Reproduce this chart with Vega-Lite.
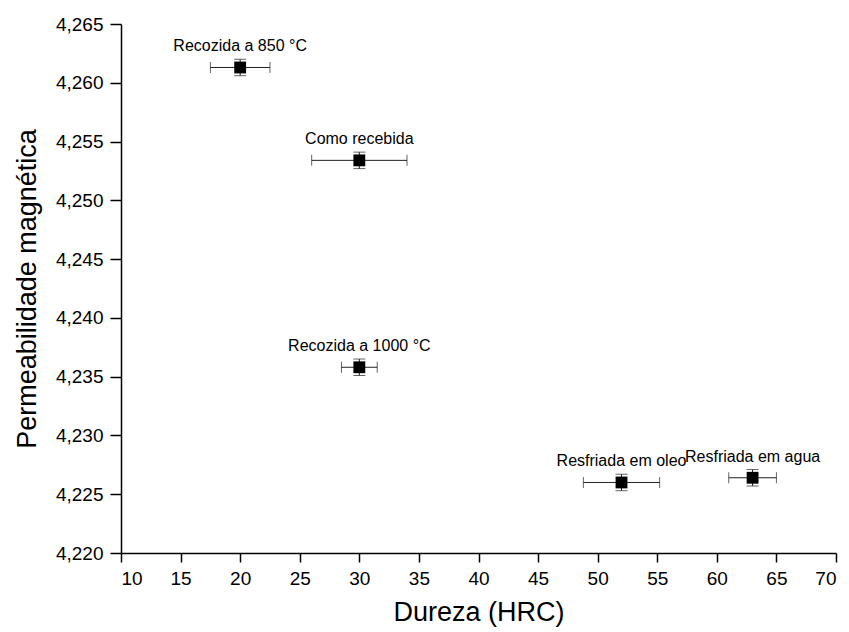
{
  "$schema": "https://vega.github.io/schema/vega-lite/v6.json",
  "width": 715,
  "height": 529,
  "autosize": "none",
  "padding": {"left": 121, "top": 24, "right": 13, "bottom": 79},
  "background": "white",
  "config": {
    "view": {"stroke": null},
    "font": "Liberation Sans",
    "axis": {"grid": false, "domainColor": "black", "domainWidth": 1.5, "tickColor": "black", "tickWidth": 1.5, "labelColor": "black", "titleColor": "black", "labelFont": "Liberation Sans", "titleFont": "Liberation Sans", "labelFontSize": 19, "titleFontSize": 27, "titleFontWeight": "normal"}
  },
  "data": {
    "values": [
      {"label": "Recozida a 850 °C", "x": 20, "xlo": 17.5, "xhi": 22.5, "y": 4.2613, "ylo": 4.2606, "yhi": 4.2620},
      {"label": "Como recebida", "x": 30, "xlo": 26, "xhi": 34, "y": 4.2534, "ylo": 4.2527, "yhi": 4.2541},
      {"label": "Recozida a 1000 °C", "x": 30, "xlo": 28.5, "xhi": 31.5, "y": 4.2358, "ylo": 4.2351, "yhi": 4.2365},
      {"label": "Resfriada em oleo", "x": 52, "xlo": 48.8, "xhi": 55.2, "y": 4.2260, "ylo": 4.2253, "yhi": 4.2267},
      {"label": "Resfriada em agua", "x": 63, "xlo": 61, "xhi": 65, "y": 4.2264, "ylo": 4.2257, "yhi": 4.2271}
    ]
  },
  "encoding": {
    "x": {"field": "x", "type": "quantitative"},
    "y": {"field": "y", "type": "quantitative"}
  },
  "layer": [
    {
      "mark": {"type": "rule", "color": "#222", "strokeWidth": 1},
      "encoding": {
        "x": {"field": "xlo", "type": "quantitative", "scale": {"domain": [10, 70], "nice": false, "zero": false},
          "axis": {"title": "Dureza (HRC)", "titlePadding": 11,
            "values": [10, 12.5, 15, 17.5, 20, 22.5, 25, 27.5, 30, 32.5, 35, 37.5, 40, 42.5, 45, 47.5, 50, 52.5, 55, 57.5, 60, 62.5, 65, 67.5, 70],
            "labelExpr": "datum.value % 5 == 0 ? format(datum.value, 'd') : ''",
            "tickSize": {"condition": {"test": "datum.value % 5 == 0", "value": 9}, "value": 5},
            "labelPadding": 7}},
        "x2": {"field": "xhi"},
        "y": {"field": "y", "type": "quantitative", "scale": {"domain": [4.22, 4.265], "nice": false, "zero": false},
          "axis": {"title": "Permeabilidade magnética", "titlePadding": 14,
            "values": [4.22, 4.2225, 4.225, 4.2275, 4.23, 4.2325, 4.235, 4.2375, 4.24, 4.2425, 4.245, 4.2475, 4.25, 4.2525, 4.255, 4.2575, 4.26, 4.2625, 4.265],
            "labelExpr": "round(datum.value * 1000) % 5 == 0 ? replace(format(datum.value, '.3f'), '.', ',') : ''",
            "tickSize": {"condition": {"test": "round(datum.value * 1000) % 5 == 0", "value": 11}, "value": 6},
            "labelPadding": 7}}
      }
    },
    {
      "mark": {"type": "tick", "orient": "vertical", "color": "#222", "size": 11, "thickness": 1},
      "encoding": {"x": {"field": "xlo", "type": "quantitative"}}
    },
    {
      "mark": {"type": "tick", "orient": "vertical", "color": "#222", "size": 11, "thickness": 1},
      "encoding": {"x": {"field": "xhi", "type": "quantitative"}}
    },
    {
      "mark": {"type": "rule", "color": "#222", "strokeWidth": 1},
      "encoding": {"y": {"field": "ylo", "type": "quantitative"}, "y2": {"field": "yhi"}}
    },
    {
      "mark": {"type": "tick", "orient": "horizontal", "color": "#222", "size": 12, "thickness": 1},
      "encoding": {"y": {"field": "ylo", "type": "quantitative"}}
    },
    {
      "mark": {"type": "tick", "orient": "horizontal", "color": "#222", "size": 12, "thickness": 1},
      "encoding": {"y": {"field": "yhi", "type": "quantitative"}}
    },
    {
      "mark": {"type": "point", "shape": "square", "filled": true, "color": "black", "opacity": 1, "size": 140},
      "encoding": {}
    },
    {
      "mark": {"type": "text", "dy": -21, "fontSize": 16, "font": "Liberation Sans", "color": "black", "align": "center", "baseline": "middle"},
      "encoding": {"text": {"field": "label"}}
    }
  ]
}
